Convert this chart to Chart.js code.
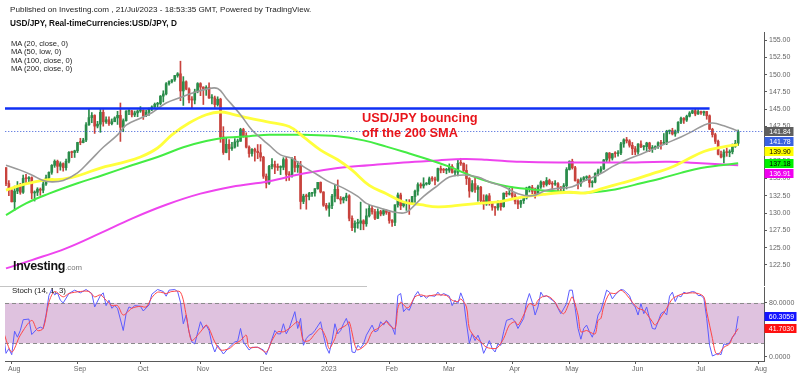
<!DOCTYPE html>
<html><head><meta charset="utf-8">
<script src="https://cdn.jsdelivr.net/npm/chart.js@4.4.0/dist/chart.umd.min.js"></script>
<style>
html,body{margin:0;padding:0;background:#fff}
body{width:800px;height:376px;position:relative;overflow:hidden;font-family:'Liberation Sans',Arial,sans-serif}
canvas{position:absolute;left:0}
#main{top:0}
#stoch{top:276px}
.t{position:absolute;white-space:nowrap;line-height:1;color:#222}
#sep{position:absolute;left:0;top:285.5px;width:367px;height:1px;background:#c4c4c4}
</style></head><body>
<canvas id="main" width="800" height="296"></canvas>
<canvas id="stoch" width="800" height="100"></canvas>
<div id="sep"></div>
<div class="t" data-w="302" data-cy="10" style="left:10px">Published on Investing.com , 21/Jul/2023 - 18:53:35 GMT, Powered by TradingView.</div>
<div class="t" data-w="167" data-cy="25" style="left:10px;font-weight:bold;color:#111">USD/JPY, Real-timeCurrencies:USD/JPY, D</div>
<div class="t" data-fs="7.6" data-cy="44" style="left:11px">MA (20, close, 0)</div>
<div class="t" data-fs="7.6" data-cy="52.5" style="left:11px">MA (50, low, 0)</div>
<div class="t" data-fs="7.6" data-cy="61" style="left:11px">MA (100, close, 0)</div>
<div class="t" data-fs="7.6" data-cy="69.5" style="left:11px">MA (200, close, 0)</div>
<div class="t" data-fs="12.8" data-cy="119" style="left:362px;font-weight:bold;color:#e8141a">USD/JPY bouncing</div>
<div class="t" data-fs="12.8" data-cy="134" style="left:362px;font-weight:bold;color:#e8141a">off the 200 SMA</div>
<div class="t" data-fs="12.5" data-cy="267" style="left:13px;font-weight:bold;color:#111;letter-spacing:-0.3px">Investing<span style="font-weight:normal;color:#777;font-size:7.8px;letter-spacing:0">.com</span></div>
<div class="t" data-fs="7.9" data-cy="291" style="left:12px">Stoch (14, 1, 3)</div>
<script>
// ---------------- DATA ----------------
// Day index 0 = 28 Jul 2022 ... 256 = 21 Jul 2023 (trading days)
const opens = [136.55,134.26,133.25,131.62,133.17,133.86,133.00,135.00,134.96,135.12,132.90,133.00,133.45,133.29,134.20,135.08,135.88,136.89,137.48,136.75,137.14,136.56,137.48,138.77,138.74,138.99,140.20,140.18,140.55,142.75,143.79,144.10,142.56,142.84,144.55,143.18,143.48,142.91,143.19,143.74,144.12,142.39,143.35,144.72,144.75,144.18,144.47,144.74,144.84,144.07,144.57,145.14,145.33,145.72,145.82,146.89,147.21,148.68,148.99,149.24,149.87,150.12,147.64,148.97,147.91,146.35,146.32,147.53,148.71,148.20,147.98,148.15,146.62,146.64,145.67,146.45,141.00,138.75,139.93,139.30,139.52,140.27,140.37,142.07,141.17,139.52,138.60,139.20,138.93,138.72,138.07,135.32,134.31,136.74,137.02,136.63,136.59,136.61,137.73,135.58,135.48,137.80,136.59,136.89,131.67,132.44,132.38,132.84,132.89,133.52,134.43,133.04,131.12,130.70,131.07,132.44,133.42,132.08,131.88,132.23,132.48,129.24,127.88,128.51,128.53,128.88,128.44,129.59,130.67,130.18,129.24,130.21,129.86,130.35,130.09,128.92,128.65,131.19,132.61,131.05,131.41,131.55,131.38,132.39,133.16,134.11,133.92,134.18,134.24,134.96,134.92,134.73,136.44,136.19,136.18,136.18,136.75,135.87,135.90,137.19,137.18,136.16,134.98,133.18,134.25,133.41,133.73,131.80,131.30,132.49,131.48,130.86,130.74,131.45,130.92,132.87,132.73,132.86,132.45,131.71,131.29,131.78,132.18,133.63,133.69,133.13,132.65,133.78,134.48,134.12,134.70,134.24,134.17,134.24,133.72,133.61,133.95,136.29,137.48,136.55,134.69,134.28,134.85,135.12,135.25,134.38,134.47,135.72,136.10,136.37,137.68,138.67,137.93,138.59,138.57,138.69,139.99,140.59,140.42,139.79,139.29,138.82,139.97,139.56,139.60,140.12,139.32,139.41,139.60,140.15,140.06,140.23,141.82,141.91,141.43,141.84,143.10,143.70,143.43,143.99,144.45,144.79,144.31,144.66,144.47,144.67,144.06,142.10,141.33,140.36,138.50,138.09,138.82,138.73,138.85,139.64,140.07];
const highs = [136.58,134.70,133.55,133.90,134.55,134.30,135.50,135.58,135.28,135.23,133.20,133.66,133.62,134.68,135.50,135.95,137.00,137.68,137.65,137.40,137.25,137.81,138.88,138.95,139.08,140.23,140.80,140.80,143.08,144.99,144.52,144.20,143.25,144.96,144.95,143.90,143.90,143.60,143.90,144.70,145.90,143.60,144.79,144.90,144.85,144.74,144.89,145.38,144.93,144.85,145.15,145.50,145.90,146.00,146.98,147.67,148.86,149.10,149.30,149.90,150.29,151.94,149.71,149.10,148.10,146.83,147.90,148.84,148.84,148.25,148.40,148.80,147.10,146.90,146.80,146.59,142.48,140.80,140.60,140.20,140.75,140.69,142.25,142.25,141.60,139.70,139.31,139.38,139.90,139.89,138.20,135.65,136.90,137.86,137.50,137.10,136.82,138.00,138.15,135.98,138.00,138.18,137.48,137.47,132.72,132.73,132.98,133.00,133.55,134.40,134.50,133.09,131.40,131.47,132.71,134.05,134.78,132.38,132.30,132.87,132.64,129.58,128.88,129.10,131.58,129.04,130.61,131.12,130.98,130.53,130.61,130.40,130.55,130.48,130.19,129.05,131.20,132.90,132.88,131.67,131.95,131.94,132.42,133.32,134.35,134.35,135.10,134.40,135.20,135.27,135.20,136.50,136.80,136.45,136.45,137.10,137.00,136.17,137.74,137.91,137.25,136.99,135.12,134.70,135.10,133.95,133.85,132.64,132.65,132.82,131.65,130.97,131.78,131.62,132.91,133.13,133.56,133.76,132.82,131.90,131.86,132.38,133.74,133.88,134.00,133.60,134.03,134.67,134.57,135.13,134.90,134.55,134.70,134.40,133.83,134.26,136.56,137.55,137.78,136.75,134.89,135.10,135.27,135.38,135.47,134.68,135.82,136.34,136.71,137.74,138.75,138.75,138.60,138.87,139.04,140.23,140.73,140.93,140.60,140.20,139.62,140.05,140.45,139.75,140.23,140.23,139.76,139.71,140.29,140.50,141.49,141.96,142.00,142.25,142.00,143.21,143.87,143.80,144.15,144.65,144.89,145.07,144.90,144.74,144.74,144.70,144.18,142.25,141.53,140.53,138.97,139.13,139.40,139.13,139.98,140.51,142.00];
const lows = [133.94,132.51,131.60,130.39,132.80,132.71,132.82,134.36,134.46,132.05,131.73,132.52,132.56,132.92,134.00,134.62,135.60,136.60,135.81,136.19,136.05,136.18,137.25,138.00,138.03,138.73,139.87,140.14,140.30,142.67,143.05,141.50,142.30,141.66,142.55,142.96,142.65,142.74,143.21,142.80,140.35,141.75,143.26,144.20,143.90,143.93,143.92,144.55,143.53,143.91,144.10,144.80,145.26,145.30,145.62,146.05,147.05,148.46,148.80,149.03,149.63,146.23,145.55,147.80,145.91,145.10,145.77,147.37,146.96,145.68,147.00,146.55,145.75,145.27,145.45,140.22,138.47,138.70,137.67,139.05,139.38,139.63,140.36,140.95,139.40,138.06,138.21,137.50,137.86,137.50,135.00,133.62,134.13,136.37,135.70,136.15,135.55,136.25,134.65,134.70,135.20,135.95,135.87,130.58,131.35,130.55,131.90,132.40,132.45,133.43,132.90,130.96,130.41,129.52,130.64,131.60,132.04,131.32,131.45,131.76,128.87,127.46,127.22,127.80,127.58,127.58,128.08,129.42,129.85,129.03,129.20,129.59,129.65,129.81,128.52,128.08,128.17,130.85,130.49,130.85,130.38,129.80,131.30,131.52,132.57,133.60,133.60,134.03,134.10,134.60,134.05,134.55,135.80,135.83,135.67,135.87,135.77,135.36,135.37,136.88,135.99,134.12,132.28,133.05,132.99,131.73,131.60,130.53,131.10,131.12,130.40,129.64,130.43,130.40,130.84,132.36,132.60,132.18,131.31,130.63,130.80,131.38,132.02,133.04,132.75,132.13,132.54,133.54,133.75,133.90,134.09,133.50,134.00,133.03,133.01,133.20,133.48,136.21,136.35,134.62,133.50,133.85,134.60,134.73,133.74,133.74,134.36,135.35,135.74,136.30,137.35,137.43,137.65,138.06,138.20,138.45,139.50,140.12,139.52,138.43,138.43,138.52,139.46,139.10,138.96,138.87,138.76,139.20,139.35,139.23,139.87,139.88,141.44,141.28,141.08,141.58,142.93,142.96,143.23,143.88,144.36,144.05,144.24,144.25,144.10,143.55,142.07,140.98,140.04,138.41,137.95,137.24,138.20,138.13,138.55,139.49,139.75];
const closes = [134.26,133.25,131.62,133.17,133.86,133.00,135.00,134.96,135.12,132.90,133.00,133.45,133.29,134.20,135.08,135.88,136.89,137.48,136.75,137.14,136.56,137.48,138.77,138.74,138.99,140.20,140.18,140.55,142.75,143.79,144.10,142.56,142.84,144.55,143.18,143.48,142.91,143.19,143.74,144.12,142.39,143.35,144.72,144.75,144.18,144.47,144.74,144.84,144.07,144.57,145.14,145.33,145.72,145.82,146.89,147.21,148.68,148.99,149.24,149.87,150.12,147.64,148.97,147.91,146.35,146.32,147.53,148.71,148.20,147.98,148.15,146.62,146.64,145.67,146.45,141.00,138.75,139.93,139.30,139.52,140.27,140.37,142.07,141.17,139.52,138.60,139.20,138.93,138.72,138.07,135.32,134.31,136.74,137.02,136.63,136.59,136.61,137.73,135.58,135.48,137.80,136.59,136.89,131.67,132.44,132.38,132.84,132.89,133.52,134.43,133.04,131.12,130.70,131.07,132.44,133.42,132.08,131.88,132.23,132.48,129.24,127.88,128.51,128.53,128.88,128.44,129.59,130.67,130.18,129.24,130.21,129.86,130.35,130.09,128.92,128.65,131.19,132.61,131.05,131.41,131.55,131.38,132.39,133.16,134.11,133.92,134.18,134.24,134.96,134.92,134.73,136.44,136.19,136.18,136.18,136.75,135.87,135.90,137.19,137.18,136.16,134.98,133.18,134.25,133.41,133.73,131.80,131.30,132.49,131.48,130.86,130.74,131.45,130.92,132.87,132.73,132.86,132.45,131.71,131.29,131.78,132.18,133.63,133.69,133.13,132.65,133.78,134.48,134.12,134.70,134.24,134.17,134.24,133.72,133.61,133.95,136.29,137.48,136.55,134.69,134.28,134.85,135.12,135.25,134.38,134.47,135.72,136.10,136.37,137.68,138.67,137.93,138.59,138.57,138.69,139.99,140.59,140.42,139.79,139.29,138.82,139.97,139.56,139.60,140.12,139.32,139.41,139.60,140.15,140.06,140.23,141.82,141.91,141.43,141.84,143.10,143.70,143.43,143.99,144.45,144.79,144.31,144.66,144.47,144.67,144.06,142.10,141.33,140.36,138.50,138.09,138.82,138.73,138.85,139.64,140.07,141.78];

// Moving averages (day index, value)
const ma20Day = [0,5,9,13,16,20,25,29,34,39,42,47,51,56,61,65,70,74,77,82,86,90,92,96,100,104,109,113,118,123,126,131,135,139,141,146,151,155,160,165,169,174,179,184,189,194,198,203,208,212,217,222,226,231,236,240,244,247,251,256];
const ma20Val = [136.9,136.2,135.5,134.7,134.5,134.7,135.8,137.4,139.5,141.3,142.7,143.7,144.5,145.9,146.7,147.3,147.9,148.0,146.6,144.2,142.0,140.5,139.8,138.4,137.9,136.7,135.5,134.5,133.6,132.4,131.4,130.7,130.2,130.0,130.4,132.4,134.0,135.2,135.5,135.2,134.5,133.8,132.8,132.5,133.3,133.6,133.8,134.8,135.7,136.7,137.7,138.5,139.2,140.1,141.0,141.8,142.7,143.0,142.6,141.84];
const ma50Day = [0,5,9,14,20,26,33,40,47,53,58,64,70,75,79,85,91,99,104,110,116,121,127,133,139,145,151,158,165,172,179,188,197,203,209,215,221,226,232,238,244,250,256];
const ma50Val = [133.3,134.0,134.4,134.8,134.9,135.5,136.5,137.2,138.1,139.4,141.3,143.0,144.2,144.6,144.3,143.7,143.2,142.5,141.0,139.1,137.7,136.2,134.0,132.8,131.6,131.2,130.9,131.1,131.4,131.6,132.2,132.7,133.0,132.9,133.6,134.3,135.0,135.7,136.5,137.7,138.9,139.5,139.9];
const ma100Day = [0,7,15,25,34,44,53,62,70,77,85,92,104,116,125,133,141,148,155,162,169,176,187,194,201,208,215,222,229,236,243,250,256];
const ma100Val = [129.7,131.4,132.8,134.3,135.5,136.9,138.1,139.5,140.4,140.9,141.1,141.3,141.3,141.1,140.5,139.6,138.6,137.7,136.7,135.5,134.5,133.8,133.3,133.1,132.9,133.1,133.6,134.3,135.0,135.8,136.5,136.9,137.18];
const ma200Day = [0,9,21,33,44,56,68,79,92,104,116,127,139,151,160,168,180,197,215,232,243,256];
const ma200Val = [122.0,123.2,124.9,127.1,129.2,131.2,132.8,133.8,134.6,135.7,136.5,136.9,137.3,137.6,137.8,137.7,137.4,137.3,137.3,137.4,137.2,136.91];

// Stochastic (14,1,3) (day index, value)
const kDay = [-1,0,1,2,3,4,5,6,8,9,11,12,13,14,15,16,17,18,19,20,22,24,26,28,30,31,33,34,35,36,37,38,39,41,42,43,44,45,47,48,50,51,53,55,56,57,59,60,61,62,63,64,65,66,68,69,70,71,72,73,74,76,78,80,81,82,83,85,86,88,90,91,92,94,95,96,97,98,99,101,102,103,104,105,106,107,108,110,111,112,113,114,115,116,117,118,119,120,121,122,123,124,125,126,128,129,130,131,132,133,134,135,136,137,138,139,140,141,143,144,145,146,147,148,150,151,152,153,155,156,157,158,159,160,161,162,163,164,165,166,167,168,169,170,171,172,173,174,175,177,178,179,181,182,183,184,185,186,187,188,189,191,192,193,194,196,197,198,199,200,201,202,203,204,205,206,207,208,209,210,211,212,213,215,216,218,219,220,221,222,223,224,225,226,227,228,229,230,231,232,233,234,235,236,237,238,240,241,242,243,244,245,246,247,248,249,250,251,252,253,254,255,256];
const kVal = [37,5,12,3,38,29,39,55,56,33,42,44,42,62,91,100,92,95,84,80,94,99,95,100,94,74,91,95,76,84,72,76,72,39,64,74,72,76,75,68,77,93,100,97,90,99,100,97,81,49,62,37,22,19,52,42,47,39,19,7,17,4,14,22,23,42,22,10,14,14,10,3,14,39,34,34,49,34,42,67,42,57,17,27,32,34,39,52,32,14,5,24,49,34,39,49,57,44,7,6,17,13,19,32,47,37,39,52,47,54,49,44,33,91,94,67,72,69,91,97,89,91,87,91,90,96,91,94,90,76,84,79,95,84,50,20,34,24,32,22,5,14,24,12,7,19,17,37,54,57,52,42,57,81,94,81,62,74,96,89,91,84,81,72,64,79,99,99,72,42,26,42,47,37,29,42,62,69,84,99,96,86,92,100,99,91,79,74,62,79,64,74,57,42,41,52,64,67,62,90,96,82,91,89,96,94,97,96,91,91,87,57,17,1,3,5,3,19,18,21,29,34,60.3059];
const dDay = [-1,2,5,9,11,13,15,17,20,22,26,29,31,33,35,37,39,41,44,47,49,51,53,55,56,58,61,63,64,65,68,70,71,73,75,78,80,82,84,85,88,91,93,95,97,99,102,103,104,106,108,110,112,113,115,116,119,120,122,123,126,128,130,133,134,136,137,138,140,141,143,145,147,150,152,154,156,158,159,161,162,164,166,168,171,172,174,176,178,179,181,183,185,186,188,190,192,193,195,197,198,200,201,203,204,206,207,208,209,211,213,215,217,219,221,223,224,226,227,229,231,233,235,237,240,242,244,245,247,248,249,251,253,254,256];
const dVal = [38,7,32,54,39,42,81,97,89,94,97,97,89,92,84,76,76,62,72,75,74,88,96,95,94,97,96,62,37,24,37,47,42,22,10,12,19,24,32,14,14,7,24,37,37,42,52,42,24,24,34,42,27,12,27,39,47,52,17,10,19,37,42,52,47,42,72,81,73,74,89,92,90,92,92,91,84,82,86,74,42,29,22,14,12,14,27,47,52,47,62,79,76,84,90,89,81,73,64,81,89,62,37,39,37,34,54,57,75,94,94,99,92,81,72,69,64,52,47,59,72,86,91,94,95,94,89,67,27,7,3,14,19,29,41.7030];

// Levels and axis labelling
const resistanceLevel = 145.1;
const resistanceSpan = [-2, 246];
const lastPrice = 141.78;
const priceTicks = [155,152.5,150,147.5,145,142.5,140,137.5,135,132.5,130,127.5,125,122.5];
const stochTicks = [0,80];
const stochBand = [20,80];
const monthDay = [2,25,47,68,90,112,134,154,177,197,220,242,263];
const monthName = ['Aug','Sep','Oct','Nov','Dec','2023','Feb','Mar','Apr','May','Jun','Jul','Aug'];
const priceLabelVal = [141.84,141.78,139.90,137.18,136.91];
const priceLabelBg = ['#5f5f5f','#3a62e0','#ffff00','#00f000','#f000f0'];
const priceLabelFg = ['#fff','#fff','#000','#000','#fff'];
const stochLabelVal = [60.3059,41.7030];
const stochLabelBg = ['#1414ff','#ff1010'];

// ---------------- TEXT FITTING ----------------
(function(){
  const ctx = document.createElement('canvas').getContext('2d');
  document.querySelectorAll('.t').forEach(el=>{
    let fs;
    if (el.dataset.w){
      const wt = getComputedStyle(el).fontWeight;
      ctx.font = wt+" 20px 'Liberation Sans'";
      fs = 20*(+el.dataset.w)/ctx.measureText(el.textContent).width;
    } else fs = +el.dataset.fs;
    el.style.fontSize = fs+'px';
    el.style.top = (+el.dataset.cy - fs*0.55)+'px';
  });
})();

// ---------------- CHARTS ----------------
Chart.defaults.font.family = "'Liberation Sans', Arial, sans-serif";
const X_MIN = -0.35, X_MAX = 265.03;
const UP = '#2a8c4a', DOWN = '#c8433d';
const candleColor = i => closes[i] >= opens[i] ? UP : DOWN;
const pts = (xs, ys) => xs.map((x,k)=>({x:x, y:ys[k]}));
const axisCol = '#5a5a5a';

function sideLabels(chart, vals, bgs, fgs, w){
  const c = chart.ctx, ys = chart.scales.y, x0 = chart.chartArea.right + 0.5;
  const order = vals.map((v,i)=>i).sort((a,b)=>vals[b]-vals[a]);
  let prev = -1e9;
  c.save();
  c.font = "7px 'Liberation Sans'";
  c.textAlign = 'center'; c.textBaseline = 'middle';
  order.forEach(i=>{
    let y = ys.getPixelForValue(vals[i]);
    if (y < prev + 10.3) y = prev + 10.3;
    prev = y;
    c.fillStyle = bgs[i];
    c.fillRect(x0, Math.round(y-4.5), w, 9);
    c.fillStyle = fgs[i];
    c.fillText(vals[i].toFixed(vals[i] > 100 ? 2 : 4), x0 + w/2 + 1, Math.round(y-4.5)+4.8);
  });
  c.restore();
}

new Chart(document.getElementById('main'), {
  type: 'bar',
  data: { datasets: [
    { type:'line', data:[{x:resistanceSpan[0],y:resistanceLevel},{x:resistanceSpan[1],y:resistanceLevel}], borderColor:'#1030f4', borderWidth:2.5, pointRadius:0, order:2 },
    { type:'line', data:[{x:X_MIN-2,y:lastPrice},{x:X_MAX+2,y:lastPrice}], borderColor:'#3858d8', borderWidth:1, borderDash:[1,2], pointRadius:0, order:1 },
    { type:'line', data:pts(ma20Day, ma20Val), borderColor:'#9a9a9a', borderWidth:1.6, pointRadius:0, tension:0.4, order:3 },
    { type:'line', data:pts(ma50Day, ma50Val), borderColor:'#ffff3c', borderWidth:2.8, pointRadius:0, tension:0.4, order:4 },
    { type:'line', data:pts(ma100Day, ma100Val), borderColor:'#44ec44', borderWidth:2, pointRadius:0, tension:0.4, order:5 },
    { type:'line', data:pts(ma200Day, ma200Val), borderColor:'#ee44ee', borderWidth:2, pointRadius:0, tension:0.4, order:6 },
    { type:'bar', data:closes.map((c,i)=>({x:i, y:[opens[i], c]})), backgroundColor:ctx=>candleColor(ctx.dataIndex), barThickness:2, minBarLength:1, grouped:false, borderWidth:0, order:9 },
    { type:'bar', data:closes.map((c,i)=>({x:i, y:[lows[i], highs[i]]})), backgroundColor:ctx=>candleColor(ctx.dataIndex), barThickness:1, grouped:false, borderWidth:0, order:10 }
  ]},
  options: {
    responsive:false, animation:false, events:[],
    layout:{ padding:{ left:5, top:32, bottom:11, right:0 } },
    plugins:{ legend:{display:false}, tooltip:{enabled:false} },
    scales:{
      x:{ type:'linear', min:X_MIN, max:X_MAX, offset:false, display:false },
      y:{ position:'right', min:119.6, max:156.16,
          afterFit(s){ s.width = 36; },
          afterBuildTicks(s){ s.ticks = priceTicks.map(v=>({value:v})); },
          ticks:{ callback:v=>Number(v).toFixed(2), font:{size:7}, color:'#666', padding:2 },
          grid:{ drawOnChartArea:false, tickLength:3, color:axisCol },
          border:{ color:axisCol } }
    }
  },
  plugins:[{ id:'mainLabels', afterDraw(chart){ sideLabels(chart, priceLabelVal, priceLabelBg, priceLabelFg, 29); } }]
});

new Chart(document.getElementById('stoch'), {
  type: 'line',
  data: { datasets: [
    { data:pts(dDay, dVal), borderColor:'#ff4646', borderWidth:1, pointRadius:0, tension:0.3 },
    { data:pts(kDay, kVal), borderColor:'#5c5cff', borderWidth:1, pointRadius:0, tension:0 }
  ]},
  options: {
    responsive:false, animation:false, events:[],
    layout:{ padding:{ left:5, top:11, bottom:0, right:0 } },
    plugins:{ legend:{display:false}, tooltip:{enabled:false} },
    scales:{
      x:{ type:'linear', min:X_MIN, max:X_MAX, offset:false,
          afterFit(s){ s.height = 15; },
          afterBuildTicks(s){ s.ticks = monthDay.map(v=>({value:v})); },
          ticks:{ callback:(v,i)=>monthName[i], autoSkip:false, maxRotation:0, font:{size:7}, color:'#666', padding:1, labelOffset:2.5 },
          grid:{ drawOnChartArea:false, tickLength:3, color:axisCol },
          border:{ color:axisCol } },
      y:{ position:'right', min:-6.4, max:103.7,
          afterFit(s){ s.width = 36; },
          afterBuildTicks(s){ s.ticks = stochTicks.map(v=>({value:v})); },
          ticks:{ callback:v=>Number(v).toFixed(4), font:{size:7}, color:'#666', padding:2 },
          grid:{ drawOnChartArea:false, tickLength:3, color:axisCol },
          border:{ color:axisCol } }
    }
  },
  plugins:[{
    id:'band',
    beforeDatasetsDraw(chart){
      const c = chart.ctx, a = chart.chartArea, y = chart.scales.y;
      const yTop = y.getPixelForValue(stochBand[1]), yBot = y.getPixelForValue(stochBand[0]);
      c.save();
      c.fillStyle = '#dfc2df';
      c.fillRect(a.left, yTop, a.right-a.left, yBot-yTop);
      c.strokeStyle = '#8a8a8a'; c.lineWidth = 1; c.setLineDash([4,3]);
      [yTop, yBot].forEach(yy=>{ c.beginPath(); c.moveTo(a.left, Math.round(yy)+0.5); c.lineTo(a.right, Math.round(yy)+0.5); c.stroke(); });
      c.restore();
    },
    afterDraw(chart){ sideLabels(chart, stochLabelVal, stochLabelBg, ['#fff','#fff'], 32); }
  }]
});
</script>
</body></html>
